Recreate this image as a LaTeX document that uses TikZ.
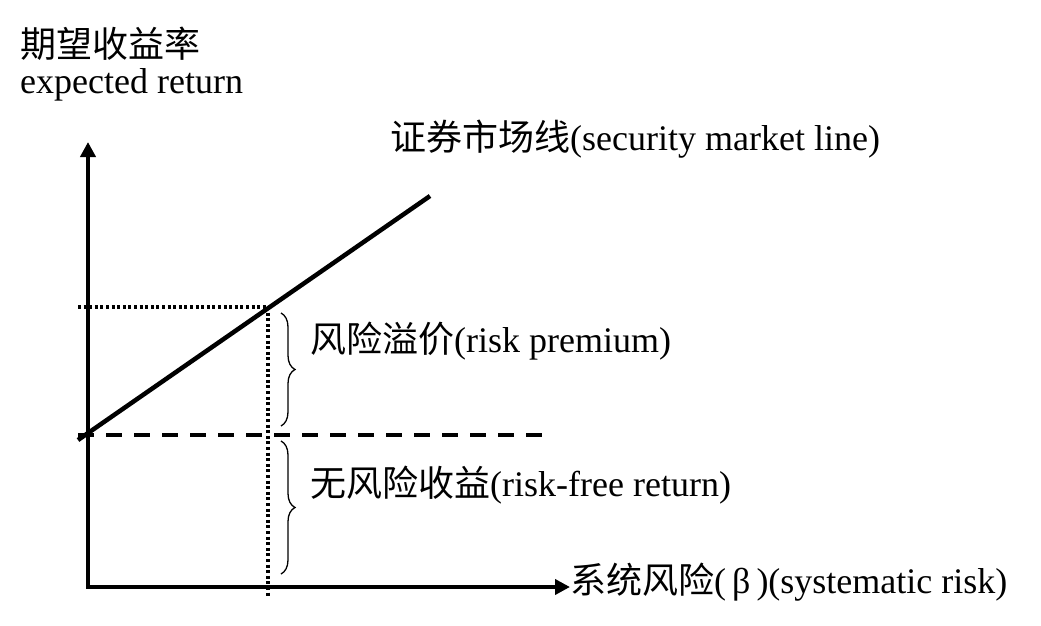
\documentclass[tikz,border=0pt]{standalone}
\usepackage{fontspec}
\setmainfont{Liberation Serif}
\newfontfamily\cjk{Noto Sans CJK SC}
\usetikzlibrary{arrows.meta,decorations.pathreplacing}
\tikzset{
  axis/.style={line width=4.5pt,-{Triangle[length=15pt,width=15pt]}},
  smlline/.style={line width=4.5pt},
  rfline/.style={line width=4pt,dash pattern=on 16pt off 12pt},
  guide/.style={line width=3.5pt,dash pattern=on 3pt off 2.6pt},
  bracestyle/.style={line width=1.3pt,decorate,decoration={brace,amplitude=14pt}},
  lbl/.style={anchor=base west,inner sep=0pt,font=\fontsize{36}{40}\selectfont},
}
\begin{document}
\begin{tikzpicture}[x=1pt,y=-1pt]
\useasboundingbox (0,0) rectangle (1041,626);
% coordinates
\coordinate (O) at (88,587);
\coordinate (ytop) at (88,142);
\coordinate (xend) at (570,587);
\coordinate (s0) at (78,440);
\coordinate (s1) at (430,196);
\coordinate (rf0) at (78,435);
\coordinate (rf1) at (549,435);
\coordinate (p0) at (78,307);
\coordinate (P) at (268,307);
\coordinate (pb) at (268,598);
\coordinate (b1t) at (281,313);
\coordinate (b1b) at (281,426);
\coordinate (b2t) at (281,441);
\coordinate (b2b) at (281,574);
% guides
\draw[guide] (p0) -- (P);
\draw[guide] (P) -- (pb);
\draw[rfline] (rf0) -- (rf1);
% axes
\draw[axis] ([yshift=2pt]O) -- (ytop);
\draw[axis] ([xshift=-2pt]O) -- (xend);
% SML
\draw[smlline] (s0) -- (s1);
% braces
\draw[bracestyle] (b1t) -- (b1b);
\draw[bracestyle] (b2t) -- (b2b);
% labels
\node[lbl] (ylab1) at (20,58) {\cjk 期望收益率};
\node[lbl] (ylab2) at (20,93) {expected return};
\node[lbl] (smllab) at (390,150) {{\cjk 证券市场线}(security market line)};
\node[lbl] (rplab) at (310,352) {{\cjk 风险溢价}(risk premium)};
\node[lbl] (rflab) at (310,496) {{\cjk 无风险收益}(risk-free return)};
\node[lbl] (xlab) at (570,593) {{\cjk 系统风险}(\,β\,)(systematic risk)};
\end{tikzpicture}
\end{document}
